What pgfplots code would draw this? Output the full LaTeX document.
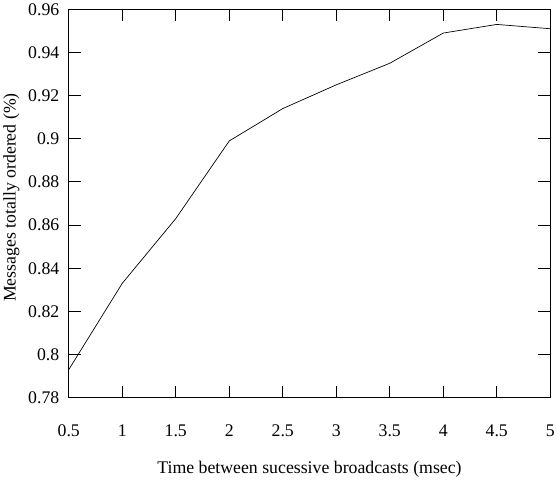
\documentclass[border=0pt]{standalone}
\usepackage{fontspec}
\setmainfont{Liberation Serif}
\usepackage{pgfplots}
\pgfplotsset{compat=1.18}
\begin{document}
\begin{tikzpicture}
\begin{axis}[
  scale only axis,
  width=486bp, height=392bp,
  xmin=0.5, xmax=5, ymin=0.78, ymax=0.96,
  xtick={0.5,1,1.5,2,2.5,3,3.5,4,4.5,5},
  ytick={0.78,0.8,0.82,0.84,0.86,0.88,0.9,0.92,0.94,0.96},
  xticklabels={0.5,1,1.5,2,2.5,3,3.5,4,4.5,5},
  yticklabels={0.78,0.8,0.82,0.84,0.86,0.88,0.9,0.92,0.94,0.96},
  tick align=inside,
  tick pos=both,
  major tick length=12bp,
  tick style={black, line width=1.1pt},
  axis line style={black, line width=1.3pt},
  /pgf/number format/assume math mode=true,
  xlabel={Time between sucessive broadcasts (msec)},
  ylabel={Messages totally ordered (\%)},
  tick label style={font=\fontsize{18}{21}\selectfont},
  label style={font=\fontsize{18}{21}\selectfont},
  xticklabel style={yshift=-24bp},
  yticklabel style={xshift=-6bp},
  xlabel style={yshift=-18bp},
  ylabel style={yshift=2bp, xshift=6bp},
]
\addplot[black, line width=0.7pt] coordinates {
(0.5,0.793) (1,0.833) (1.5,0.863) (2,0.899) (2.5,0.914) (3,0.925) (3.5,0.935) (4,0.949) (4.5,0.953) (5,0.951)
};
\end{axis}
\end{tikzpicture}
\end{document}
